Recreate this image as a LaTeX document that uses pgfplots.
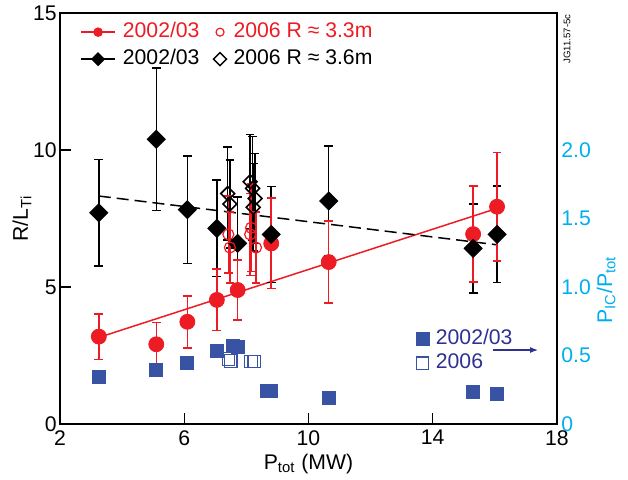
\documentclass[border=0pt]{standalone}
\usepackage{fontspec}
\setmainfont{Liberation Sans}
\usepackage{pgfplots}
\pgfplotsset{compat=1.18}
\usepackage{pgfplotstable}
\usetikzlibrary{arrows.meta}
\definecolor{jred}{HTML}{ED1C24}
\definecolor{jblue}{HTML}{3953A4}
\definecolor{jnavy}{HTML}{2E3192}
\definecolor{jcyan}{HTML}{00AEEF}
\newcommand{\fs}{\fontsize{10.6}{12.7}\selectfont}
\pgfplotsset{
 slA/.style={legend image code/.code={\draw[mark repeat=2,mark phase=2,##1] plot coordinates {(0cm,0cm) (0.21cm,0cm) (0.42cm,0cm)};}},
 slB/.style={legend image code/.code={\draw[mark repeat=2,mark phase=2,##1] plot coordinates {(0cm,0cm) (0.15cm,0cm) (0.3cm,0cm)};}},
}

\pgfplotstableread{
x y e
3.25 3.19 0.83
5.1 2.91 0.8
6.1 3.73 0.95
7.05 4.53 1.12
7.72 4.89 1.1
8.8 6.59 1.65
10.65 5.91 1.5
15.3 6.93 1.75
16.07 7.93 1.98
}\redA
\pgfplotstableread{
x y e
3.25 7.71 1.95
5.1 10.39 2.6
6.1 7.82 1.97
7.05 7.14 1.76
7.72 6.59 1.7
8.8 6.92 1.75
10.65 8.14 2.0
15.3 6.41 1.62
16.07 6.92 1.76
}\blackA
\pgfplotstableread{
x y e
7.42 6.92 1.4
7.47 6.44 1.3
8.12 6.92 1.5
8.15 7.16 1.6
8.31 6.44 1.3
}\redB
\pgfplotstableread{
x y e
7.40 8.41 1.7
7.47 8.03 1.6
8.12 8.84 1.73
8.2 8.60 1.9
8.28 8.23 1.65
8.22 7.91 1.6
}\blackB
\pgfplotstableread{
x y
3.25 0.343
5.1 0.394
6.1 0.447
7.05 0.535
7.56 0.569
7.72 0.564
8.65 0.243
8.78 0.243
10.65 0.192
15.3 0.231
16.07 0.217
}\blueA
\pgfplotstableread{
x y
7.42 0.474
7.5 0.46
8.15 0.455
8.25 0.455
}\blueB

\begin{document}
\begin{tikzpicture}
\begin{axis}[
 name=main, at={(0,0)}, anchor=south west,
 scale only axis, width=248.5pt, height=205.5pt,
 xmin=2, xmax=18, ymin=0, ymax=15,
 xtick={2,6,10,14,18}, ytick={0,5,10,15},
 tick pos=left, tick align=inside, major tick length=5.5pt,
 axis line style={line width=0.7pt},
 tick style={line width=0.6pt, black},
 /pgf/number format/assume math mode=true,
 tick label style={font=\fs},
 xticklabel style={inner sep=3pt},
 yticklabel style={inner sep=1.5pt},
 xlabel={P\textsubscript{tot} (MW)},
 xlabel style={font=\fs, at={(axis description cs:0.5,0)}, anchor=base, yshift=-22.5pt},
 ylabel={R/L\textsubscript{Ti}},
 ylabel style={font=\fs, at={(axis description cs:-0.0644,0.5)}, anchor=base},
 legend columns=2, legend cell align=left,
 legend style={at={(rel axis cs:0.040,0.978)}, anchor=north west, draw=none, fill=none,
   inner sep=0pt, font=\fs, column sep=0pt, row sep=3.8pt,
   /tikz/every even column/.append style={column sep=3.5pt},
   nodes={inner xsep=3.5pt, inner ysep=0pt, text height=7.7pt, text depth=2pt}},
 clip=false,
]
\addlegendimage{jred, line width=0.75pt, mark=*, mark size=2pt}
\addlegendentry[text=jred]{2002/03}
\addlegendimage{jred, only marks, mark=o, mark size=2pt, line width=0.6pt, slA}
\addlegendentry[text=jred]{2006 R ≈ 3.3m}
\addlegendimage{black, line width=0.75pt, mark=square*, mark size=2.1pt, mark options={rotate=45}}
\addlegendentry{2002/03}
\addlegendimage{black, only marks, mark=square, mark size=2.3pt, line width=0.7pt, mark options={rotate=45}, slA}
\addlegendentry{2006 R ≈ 3.6m}

% fit lines
\addplot[forget plot, jred, line width=0.75pt] coordinates {(3.25,3.16) (16.07,7.87)};
\addplot[forget plot, black, line width=0.75pt, dash pattern=on 6pt off 3pt] coordinates {(3.25,8.32) (16.07,6.54)};

% error bars
\addplot[forget plot, draw=none, mark=none, black,
  error bars/.cd, y dir=both, y explicit, error bar style={black, line width=0.75pt},
  error mark options={black, rotate=90, mark size=2.2pt, line width=0.75pt}]
  table[x=x, y=y, y error=e] {\blackA};
\addplot[forget plot, draw=none, mark=none, black,
  error bars/.cd, y dir=both, y explicit, error bar style={black, line width=0.75pt},
  error mark options={black, rotate=90, mark size=2.2pt, line width=0.75pt}]
  table[x=x, y=y, y error=e] {\blackB};
\addplot[forget plot, draw=none, mark=none, jred,
  error bars/.cd, y dir=both, y explicit, error bar style={jred, line width=0.75pt},
  error mark options={jred, rotate=90, mark size=2.2pt, line width=0.75pt}]
  table[x=x, y=y, y error=e] {\redB};
\addplot[forget plot, draw=none, mark=none, jred,
  error bars/.cd, y dir=both, y explicit, error bar style={jred, line width=0.75pt},
  error mark options={jred, rotate=90, mark size=2.2pt, line width=0.75pt}]
  table[x=x, y=y, y error=e] {\redA};

% markers
\addplot[forget plot, only marks, mark=*, mark size=3.75pt, mark options={draw=jred, fill=jred}]
  table[x=x, y=y] {\redA};
\addplot[forget plot, only marks, mark=square*, mark size=3.2pt, mark options={rotate=45, draw=black, fill=black}]
  table[x=x, y=y] {\blackA};
\addplot[forget plot, only marks, mark=o, mark size=2.75pt, mark options={draw=jred, line width=0.6pt}]
  table[x=x, y=y] {\redB};
\addplot[forget plot, only marks, mark=square, mark size=2.45pt, mark options={rotate=45, draw=black, line width=0.8pt}]
  table[x=x, y=y] {\blackB};
\end{axis}

\begin{axis}[
 at={(0,0)}, anchor=south west,
 scale only axis, width=248.5pt, height=205.5pt,
 xmin=2, xmax=18, ymin=0, ymax=3,
 axis x line=none, axis y line*=right,
 axis line style={line width=0.7pt},
 ytick={0,0.5,1,1.5,2}, yticklabels={0,0.5,1.0,1.5,2.0},
 major tick length=0pt,
 yticklabel style={font=\fs, text=jcyan, inner sep=2pt},
 ylabel={P\textsubscript{IC}/P\textsubscript{tot}},
 ylabel style={font=\fs, text=jcyan, at={(axis description cs:1.1107,0.326)}, anchor=base},
 legend cell align=left,
 legend style={at={(rel axis cs:0.7153,0.2307)}, anchor=north west, draw=none, fill=none,
   inner sep=0pt, font=\fs, row sep=2.3pt, column sep=0pt, text=jnavy,
   nodes={inner xsep=3.5pt, inner ysep=0pt, text height=7.7pt, text depth=2pt}},
 slB,
 clip=false,
]
\addplot[only marks, mark=square*, mark size=3.25pt, mark options={draw=jblue, fill=jblue}]
  table[x=x, y=y] {\blueA};
\addlegendentry{2002/03}
\addplot[only marks, mark=square, mark size=3.1pt, mark options={draw=jblue, line width=0.6pt}]
  table[x=x, y=y] {\blueB};
\addlegendentry{2006}
\draw[jnavy, line width=0.6pt, -{Latex[length=4pt,width=3pt]}] (axis cs:15.94,0.54) -- (axis cs:17.39,0.54);
\end{axis}

\node[rotate=90, anchor=base, font=\fontsize{4.8}{5}\selectfont] at ([xshift=6.7pt, yshift=-13pt]main.north east) {JG11.57-5c};

\pgfresetboundingbox
\path[use as bounding box] (-30pt,-27.5pt) rectangle (284pt,212pt);
\end{tikzpicture}
\end{document}
